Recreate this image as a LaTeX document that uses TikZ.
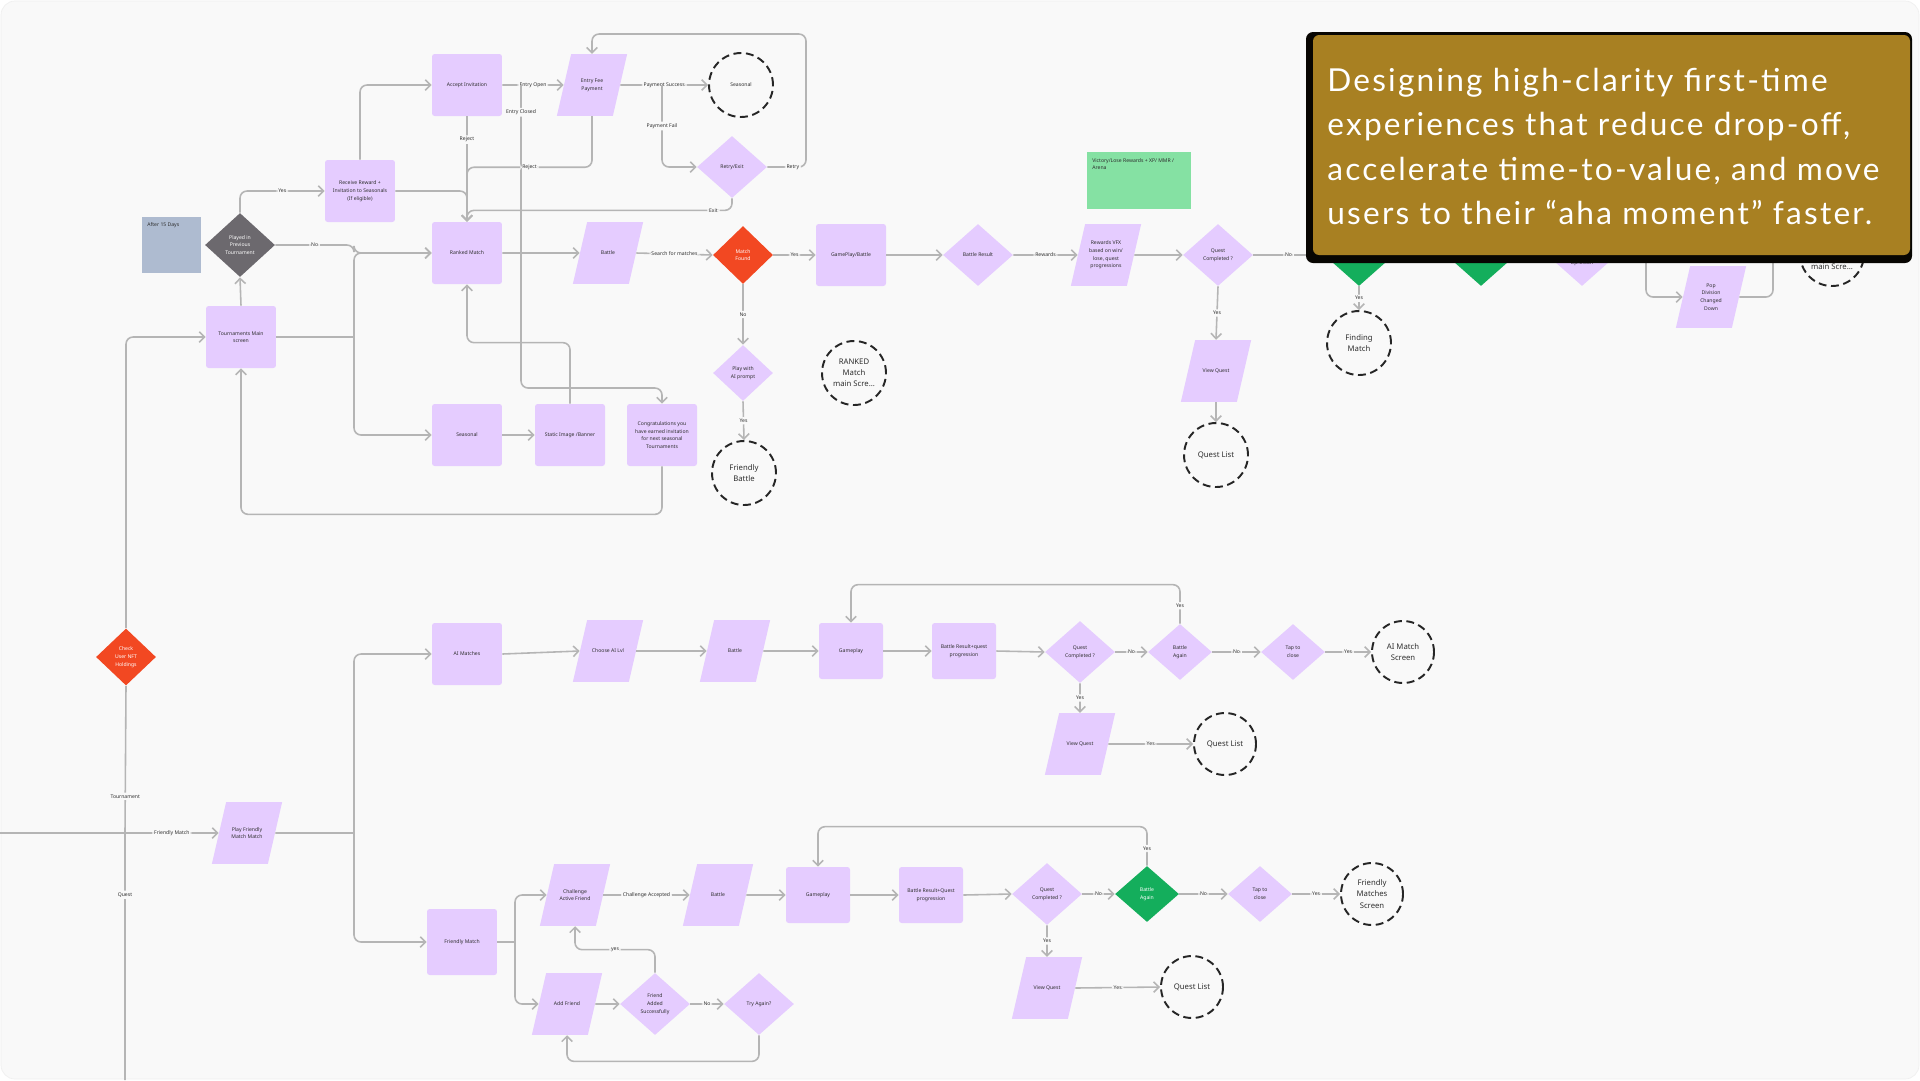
\documentclass[tikz,border=0pt]{standalone}
\usepackage{fontspec}
\setmainfont{Noto Sans}
\newfontfamily\pitchfont[LetterSpace=7]{Lato}
\usepackage{xcolor}
\usepackage{tikz}
\usetikzlibrary{arrows.meta, positioning, shapes.geometric, calc}
\definecolor{canvasgrey}{HTML}{F9F9F9}
\definecolor{flowlav}{HTML}{E5CCFF}
\definecolor{flowink}{HTML}{2E2E2E}
\definecolor{connline}{HTML}{B5B5B5}
\definecolor{alertred}{HTML}{F24822}
\definecolor{okgreen}{HTML}{14AE5C}
\definecolor{slatenote}{HTML}{AEBBD0}
\definecolor{mintnote}{HTML}{85E1A3}
\definecolor{darkchoice}{HTML}{6C696E}
\definecolor{ochre}{HTML}{A88022}
\newcommand{\flowsmall}{\fontsize{2.9pt}{4.4pt}\selectfont}
\newcommand{\flowlarge}{\fontsize{4.4pt}{6.4pt}\selectfont}
% fixed body so every parallelogram gets the same slant
\newcommand{\slantbody}[1]{\parbox[c][1.2cm][c]{0.8cm}{\centering #1}}

\begin{document}
\begin{tikzpicture}[x=0.02cm, y=-0.02cm, >={Straight Barb[length=3pt,width=6pt]},
    screen/.style={rectangle, fill=flowlav, rounded corners=1.5pt, minimum width=1.4cm, minimum height=1.24cm, inner sep=1pt, align=center, font=\flowsmall, text=flowink},
    screensm/.style={screen, minimum width=1.28cm, minimum height=1.12cm},
    slanted/.style={trapezium, trapezium left angle=77, trapezium right angle=103, fill=flowlav, inner sep=0.5pt, font=\flowsmall, text=flowink},
    choice/.style={diamond, fill=flowlav, minimum width=1.4cm, minimum height=1.24cm, inner sep=0pt, align=center, font=\flowsmall, text=flowink},
    choicesm/.style={choice, minimum width=1.28cm, minimum height=1.12cm},
    terminal/.style={circle, draw=black!85, line width=1.1pt, dash pattern=on 4.5pt off 2.6pt, minimum size=1.28cm, inner sep=0pt, align=center, font=\flowlarge, text=flowink},
    conn/.style={draw=connline, line width=0.9pt, rounded corners=4pt},
    arrowline/.style={conn, ->},
    lbl/.style={fill=canvasgrey, inner sep=1pt, font=\flowsmall, text=flowink}]

    % canvas
    \useasboundingbox (0,0) rectangle (1920,1080);
    \fill[white] (0,0) rectangle (1920,1080);
    \filldraw[fill=canvasgrey, draw=black!6, rounded corners=8pt] (1,1) rectangle (1919,1079);

    % Sticky notes
    \node[fill=slatenote, minimum width=1.18cm, minimum height=1.12cm] (note15) at (171.5,245) {};
    \node[anchor=north west, font=\flowsmall, text=flowink, inner sep=0pt] (note15txt) at (147,222) {After 15 Days};
    \node[fill=mintnote, minimum width=2.08cm, minimum height=1.14cm] (notemint) at (1139,180.5) {};
    \node[anchor=north west, font=\flowsmall, text=flowink, inner sep=0pt, align=left] (notemintxt) at (1092,158) {Victory/Lose Rewards + XP/ MMR /\\Arena};

    % Tournament entry
    \node[choice, fill=alertred, text=white, minimum width=1.2cm, minimum height=1.14cm] (chk) at (126,657) {Check\\User NFT\\Holdings};
    \node[screen] (tmain) at (241,337) {Tournaments Main\\screen};
    \node[choice, fill=darkchoice, text=white, minimum height=1.28cm] (played) at (240,245) {Played in\\Previous\\Tournament};
    \node[screen] (rr) at (360,191) {Receive Reward +\\Invitation to Seasonals\\(If eligible)};
    \node[screen] (acc) at (467,85) {Accept Invitation};
    \node[slanted] (efp) at (592,85) {\slantbody{Entry Fee\\Payment}};
    \node[terminal, font=\flowsmall] (seas) at (741,85) {Seasonal};
    \node[choice] (retry) at (732,167) {Retry/Exit};

    % Ranked match row
    \node[screen] (ranked) at (467,253) {Ranked Match};
    \node[slanted] (battle1) at (608,253) {\slantbody{Battle}};
    \node[choice, fill=alertred, text=white, minimum width=1.2cm, minimum height=1.16cm] (mf) at (743,255) {Match\\Found};
    \node[screen] (gpb) at (851,255) {GamePlay/Battle};
    \node[choice] (br) at (978,255) {Battle Result};
    \node[slanted] (rvfx) at (1106,255) {\slantbody{Rewards VFX\\based on win/\\lose, quest\\progressions}};
    \node[choice] (qc1) at (1218,255) {Quest\\Completed ?};
    \node[slanted] (vq1) at (1216,371) {\slantbody{View Quest}};
    \node[terminal] (ql1) at (1216,455) {Quest List};
    \node[choice, fill=okgreen] (g1) at (1359,255) {};
    \node[terminal] (fm) at (1359,343) {Finding\\Match};
    \node[choice, fill=okgreen] (g2) at (1481,255) {};
    \node[choice] (ud) at (1582,255) {};
    \node[font=\flowsmall, text=flowink, inner sep=0pt] (udtxt) at (1582,263) {Up/Down};
    \node[slanted] (pdc) at (1711,297) {\slantbody{Pop\\Division\\Changed\\Down}};
    \node[terminal] (msc) at (1832,254) {};
    \node[font=\flowlarge, text=flowink, inner sep=0pt] (msctxt) at (1832,267) {main Scre...};
    \node[choice, minimum width=1.2cm, minimum height=1.12cm] (aip) at (743,373) {Play with\\AI prompt};
    \node[terminal] (fb) at (744,473) {Friendly\\Battle};
    \node[terminal] (rmm) at (854,373) {RANKED\\Match\\main Scre...};

    % Seasonal row
    \node[screen] (sbox) at (467,435) {Seasonal};
    \node[screen] (sib) at (570,435) {Static Image /Banner};
    \node[screen] (congr) at (662,435) {Congratulations you\\have earned invitation\\for next seasonal\\Tournaments};

    % Friendly / AI entry
    \node[slanted] (pfm) at (247,833) {\slantbody{Play Friendly\\Match Match}};

    % AI matches row
    \node[screen] (ai) at (467,654) {AI Matches};
    \node[slanted] (choose) at (608,651) {\slantbody{Choose AI Lvl}};
    \node[slanted] (battle2) at (735,651) {\slantbody{Battle}};
    \node[screensm] (gp2) at (851,651) {Gameplay};
    \node[screensm] (brq2) at (964,651) {Battle Result+quest\\progression};
    \node[choice] (qc2) at (1080,652) {Quest\\Completed ?};
    \node[choicesm] (ba2) at (1180,652) {Battle\\Again};
    \node[choicesm] (tc2) at (1293,652) {Tap to\\close};
    \node[terminal, minimum size=1.24cm] (ams) at (1403,652) {AI Match\\Screen};
    \node[slanted] (vq2) at (1080,744) {\slantbody{View Quest}};
    \node[terminal, minimum size=1.24cm] (ql2) at (1225,744) {Quest List};

    % Friendly match rows
    \node[screen, minimum height=1.32cm] (fmatch) at (462,942) {Friendly Match};
    \node[slanted] (caf) at (575,895) {\slantbody{Challenge\\Active Friend}};
    \node[slanted] (battle3) at (718,895) {\slantbody{Battle}};
    \node[screensm] (gp3) at (818,895) {Gameplay};
    \node[screensm] (brq3) at (931,895) {Battle Result+Quest\\progression};
    \node[choice] (qc3) at (1047,894) {Quest\\Completed ?};
    \node[choicesm, fill=okgreen, text=white] (ba3) at (1147,894) {Battle\\Again};
    \node[choicesm] (tc3) at (1260,894) {Tap to\\close};
    \node[terminal, minimum size=1.24cm] (fms) at (1372,894) {Friendly\\Matches\\Screen};
    \node[slanted] (vq3) at (1047,988) {\slantbody{View Quest}};
    \node[terminal, minimum size=1.24cm] (ql3) at (1192,987) {Quest List};
    \node[slanted] (addf) at (567,1004) {\slantbody{Add Friend}};
    \node[choice] (fas) at (655,1004) {Friend\\Added\\Successfully};
    \node[choice] (ta) at (759,1004) {Try Again?};

    % Spine on the left
    \coordinate (spinejn) at (125,833);
    \coordinate (leftin) at (0,833);
    \coordinate (spinebot) at (125,1080);
    \draw[arrowline] (chk.north) |- (tmain.west);
    \draw[conn] (chk.south) -- node[lbl, pos=0.75]{Tournament} (spinejn) -- node[lbl, pos=0.25]{Quest} (spinebot);
    \draw[conn] (leftin) -- (spinejn);
    \draw[arrowline] (spinejn) -- node[lbl]{Friendly Match} (pfm.west);

    % Tournament branch
    \coordinate (hubA) at (354,337);
    \draw[arrowline] (tmain.north) -- (played.south);
    \draw[arrowline] (played.north) |- node[lbl, pos=0.75]{Yes} (rr.west);
    \draw[arrowline] (played.east) -- node[lbl]{No} (played.east -| hubA) |- (ranked.west);
    \draw[conn] (tmain.east) -- (hubA);
    \draw[arrowline] (hubA) |- (ranked.west);
    \draw[arrowline] (hubA) |- (sbox.west);
    \draw[arrowline] (rr.north) |- (acc.west);
    \draw[arrowline] (rr.east) -| (ranked.north);
    \draw[arrowline] (acc.south) -- node[lbl, pos=0.22]{Reject} (ranked.north);
    \draw[arrowline] (acc.east) -- node[lbl]{Entry Open} (efp.west);
    \coordinate (closedjn) at (521,85);
    \draw[arrowline] (closedjn) -- node[lbl, pos=0.09]{Entry Closed} ++(0,303) -| (congr.north);
    \draw[arrowline] (efp.east) -- node[lbl]{Payment Success} (seas.west);
    \coordinate (failjn) at (662,85);
    \draw[arrowline] (failjn) |- node[lbl, pos=0.25]{Payment Fail} (retry.west);
    \coordinate (retrytop) at (806,34);
    \draw[arrowline] (retry.east) -| node[lbl, pos=0.33]{Retry} (retrytop) -| (efp.north);
    \draw[arrowline] (retry.south) -- ++(0,12) -| node[lbl, pos=0.035]{Exit} (ranked.north);
    \draw[arrowline] (efp.south) -- ++(0,51) -| node[lbl, pos=0.25]{Reject} (ranked.north);

    % Ranked row connectors
    \draw[arrowline] (ranked.east) -- (battle1.west);
    \draw[arrowline] (battle1.east) -- node[lbl]{Search for matches} (mf.west);
    \draw[arrowline] (mf.east) -- node[lbl]{Yes} (gpb.west);
    \draw[arrowline] (mf.south) -- node[lbl]{No} (aip.north);
    \draw[arrowline] (aip.south) -- node[lbl]{Yes} (fb.north);
    \draw[arrowline] (gpb.east) -- (br.west);
    \draw[arrowline] (br.east) -- node[lbl]{Rewards} (rvfx.west);
    \draw[arrowline] (rvfx.east) -- (qc1.west);
    \draw[arrowline] (qc1.south) -- node[lbl]{Yes} (vq1.north);
    \draw[arrowline] (vq1.south) -- (ql1.north);
    \draw[arrowline] (qc1.east) -- node[lbl]{No} (g1.west);
    \draw[arrowline] (g1.south) -- node[lbl]{Yes} (fm.north);
    \coordinate (pdin) at (1646,250);
    \coordinate (pdout) at (1773,250);
    \draw[arrowline] (pdin) |- (pdc.west);
    \draw[conn] (pdc.east) -| (pdout);

    % Seasonal row connectors
    \draw[arrowline] (sbox.east) -- (sib.west);
    \draw[arrowline] (sib.north) -- ++(0,-61) -| (ranked.south);
    \draw[arrowline] (congr.south) -- ++(0,48) -| (tmain.south);

    % AI matches connectors
    \coordinate (hubB) at (354,833);
    \draw[conn] (pfm.east) -- (hubB);
    \draw[arrowline] (hubB) |- (ai.west);
    \draw[arrowline] (hubB) |- (fmatch.west);
    \draw[arrowline] (ai.east) -- (choose.west);
    \draw[arrowline] (choose.east) -- (battle2.west);
    \draw[arrowline] (battle2.east) -- (gp2.west);
    \draw[arrowline] (gp2.east) -- (brq2.west);
    \draw[arrowline] (brq2.east) -- (qc2.west);
    \draw[arrowline] (qc2.east) -- node[lbl]{No} (ba2.west);
    \draw[arrowline] (ba2.east) -- node[lbl]{No} (tc2.west);
    \draw[arrowline] (tc2.east) -- node[lbl]{Yes} (ams.west);
    \draw[arrowline] (qc2.south) -- node[lbl]{Yes} (vq2.north);
    \draw[arrowline] (vq2.east) -- node[lbl]{Yes} (ql2.west);
    \draw[arrowline] (ba2.north) -- node[lbl, pos=0.46]{Yes} ++(0,-39) -| (gp2.north);

    % Friendly match connectors
    \coordinate (hubC) at (515,942);
    \draw[conn] (fmatch.east) -- (hubC);
    \draw[arrowline] (hubC) |- (caf.west);
    \draw[arrowline] (hubC) |- (addf.west);
    \draw[arrowline] (caf.east) -- node[lbl]{Challenge Accepted} (battle3.west);
    \draw[arrowline] (battle3.east) -- (gp3.west);
    \draw[arrowline] (gp3.east) -- (brq3.west);
    \draw[arrowline] (brq3.east) -- (qc3.west);
    \draw[arrowline] (qc3.east) -- node[lbl]{No} (ba3.west);
    \draw[arrowline] (ba3.east) -- node[lbl]{No} (tc3.west);
    \draw[arrowline] (tc3.east) -- node[lbl]{Yes} (fms.west);
    \draw[arrowline] (qc3.south) -- node[lbl]{Yes} (vq3.north);
    \draw[arrowline] (vq3.east) -- node[lbl]{Yes} (ql3.west);
    \draw[arrowline] (ba3.north) -- node[lbl, pos=0.44]{Yes} ++(0,-39) -| (gp3.north);
    \draw[arrowline] (addf.east) -- (fas.west);
    \draw[arrowline] (fas.east) -- node[lbl]{No} (ta.west);
    \draw[arrowline] (ta.south) -- ++(0,26) -| (addf.south);
    \draw[arrowline] (fas.north) -- ++(0,-23) -| node[lbl, pos=0.25]{yes} (caf.south);

    % Caption card
    \fill[black!95!ochre, rounded corners=4pt] (1306,32) rectangle (1912,263);
    \fill[ochre, rounded corners=3.5pt] (1313,35) rectangle (1910,255);
    \node[anchor=base west, inner sep=0pt, font=\pitchfont\fontsize{18pt}{25pt}\selectfont, text=white] (pitch1) at (1327,91) {Designing high-clarity first-time};
    \node[anchor=base west, inner sep=0pt, font=\pitchfont\fontsize{18pt}{25pt}\selectfont, text=white] (pitch2) at (1327,135.6) {experiences that reduce drop-off,};
    \node[anchor=base west, inner sep=0pt, font=\pitchfont\fontsize{18pt}{25pt}\selectfont, text=white] (pitch3) at (1327,180.2) {accelerate time-to-value, and move};
    \node[anchor=base west, inner sep=0pt, font=\pitchfont\fontsize{18pt}{25pt}\selectfont, text=white] (pitch4) at (1327,224.8) {users to their “aha moment” faster.};
\end{tikzpicture}
\end{document}
